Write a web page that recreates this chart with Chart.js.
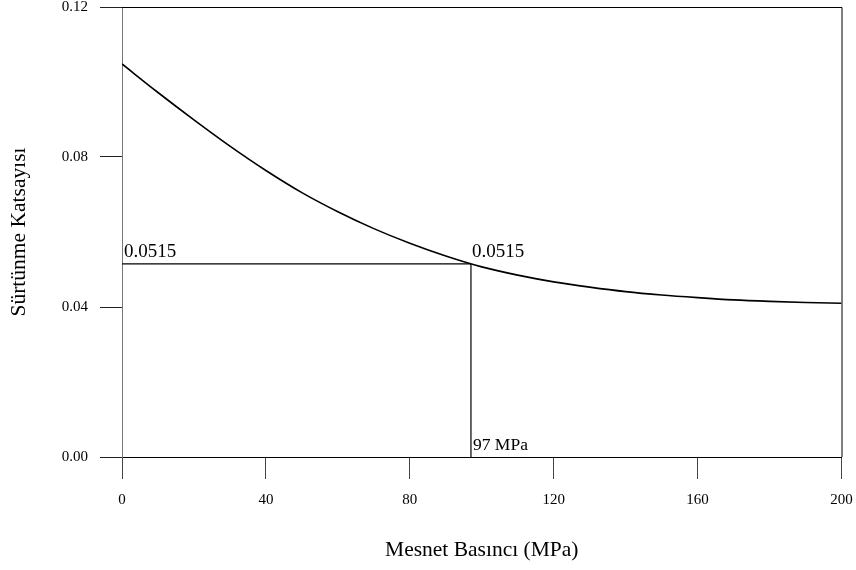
<!DOCTYPE html>
<html>
<head>
<meta charset="utf-8">
<script src="https://cdn.jsdelivr.net/npm/chart.js@4.4.0/dist/chart.umd.min.js"></script>
<style>
  html,body{margin:0;padding:0;background:#fff;}
  #wrap{width:856px;height:570px;}
</style>
</head>
<body>
<div id="wrap"><canvas id="frictionChart" width="856" height="570"></canvas></div>
<script>
/* DATA */
const pressure=[0,10,20,30,40,50,60,70,80,90,100,110,120,130,140,150,160,170,180,190,200];
const friction=[0.1048,0.0972,0.0899,0.0829,0.0764,0.0705,0.0654,0.0609,0.0570,0.0536,0.0507,0.0485,0.0467,0.0453,0.0441,0.0432,0.0425,0.0419,0.0415,0.0412,0.0410];
const markPressure=97;
const markFriction=0.0515;
const xTicks=[0,40,80,120,160,200];
const yTicks=[0.00,0.04,0.08,0.12];
const xTitle="Mesnet Basıncı (MPa)";
const yTitle="Sürtünme Katsayısı";
const markLabel="0.0515";
const pressureLabel="97 MPa";

const serif="'Liberation Serif','Times New Roman',serif";

/* FRAME + LABELS */
const framePlugin={
    id:"frame",
    afterDatasetsDraw(chart){
        const ctx=chart.ctx;
        const a=chart.chartArea;
        const xs=chart.scales.x, ys=chart.scales.y;

        ctx.save();
        ctx.strokeStyle="#000";
        ctx.lineWidth=1;
        ctx.beginPath();
        ctx.moveTo(a.left,a.top+0.5);
        ctx.lineTo(a.right+0.5,a.top+0.5);
        ctx.lineTo(a.right+0.5,a.bottom);
        ctx.stroke();

        ctx.fillStyle="#000";
        ctx.textAlign="left";
        ctx.textBaseline="alphabetic";
        ctx.font="19px "+serif;
        ctx.fillText(markLabel,xs.getPixelForValue(0)+2,ys.getPixelForValue(markFriction)-7);
        ctx.fillText(markLabel,xs.getPixelForValue(markPressure)+1,ys.getPixelForValue(markFriction)-7);
        ctx.font="17.5px "+serif;
        ctx.fillText(pressureLabel,xs.getPixelForValue(markPressure)+2,ys.getPixelForValue(0)-7);
        ctx.restore();
    }
};

new Chart(
document.getElementById("frictionChart"),
{
    type:"line",

    data:{
        datasets:[
        {
            data:pressure.map((p,i)=>({x:p,y:friction[i]})),
            borderColor:"#000",
            borderWidth:1.6,
            pointRadius:0,
            fill:false,
            cubicInterpolationMode:"monotone"
        },
        {
            data:[{x:0,y:markFriction},{x:markPressure,y:markFriction}],
            borderColor:"#000",
            borderWidth:1.2,
            pointRadius:0,
            fill:false
        },
        {
            data:[{x:markPressure,y:0},{x:markPressure,y:markFriction}],
            borderColor:"#000",
            borderWidth:1.2,
            pointRadius:0,
            fill:false
        }]
    },

    options:{
        responsive:false,
        animation:false,
        layout:{padding:{top:7,right:14.5,bottom:0,left:0}},
        plugins:{
            legend:{display:false},
            tooltip:{enabled:false}
        },
        scales:{
            x:{
                type:"linear",
                min:0,
                max:200,
                afterBuildTicks:s=>{s.ticks=xTicks.map(v=>({value:v}));},
                afterFit:s=>{s.height=113;s.paddingLeft=0;s.paddingRight=0;},
                grid:{drawOnChartArea:false,tickLength:22,tickColor:"#444",lineWidth:1},
                border:{display:true,color:"#000",width:1},
                ticks:{
                    color:"#000",
                    padding:12,
                    maxRotation:0,
                    font:{family:serif,size:15}
                },
                title:{
                    display:true,
                    text:xTitle,
                    color:"#000",
                    font:{family:serif,size:21.5},
                    padding:{top:7,bottom:7}
                }
            },
            y:{
                type:"linear",
                min:0,
                max:0.12,
                afterBuildTicks:s=>{s.ticks=yTicks.map(v=>({value:v}));},
                afterFit:s=>{s.width=122;s.paddingTop=0;s.paddingBottom=0;},
                grid:{drawOnChartArea:false,tickLength:22,tickColor:"#222",lineWidth:1},
                border:{display:true,color:"#777",width:1},
                ticks:{
                    color:"#000",
                    padding:12,
                    callback:v=>v.toFixed(2),
                    font:{family:serif,size:15}
                },
                title:{
                    display:true,
                    text:yTitle,
                    color:"#000",
                    font:{family:serif,size:21.5},
                    padding:{top:6,bottom:6}
                }
            }
        }
    },
    plugins:[framePlugin]
});
</script>
</body>
</html>
